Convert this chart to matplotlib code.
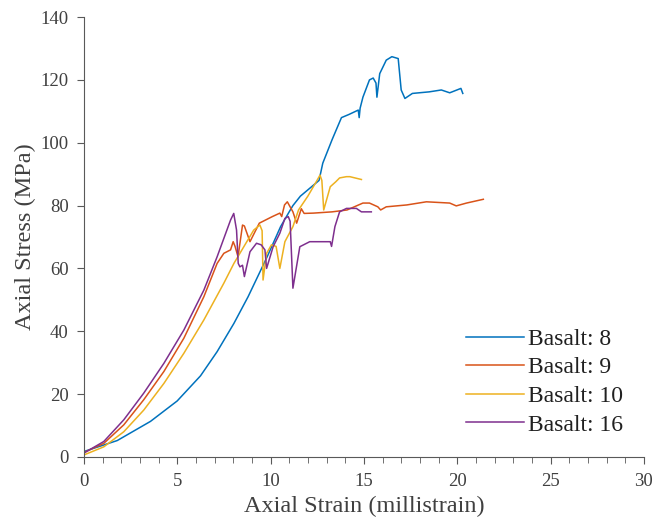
import matplotlib.pyplot as plt

# Basalt 8
strain_8 = [0, 1.79, 3.57, 5.0, 6.25, 7.14, 8.04, 8.8, 9.82, 10.54, 11.0, 11.2, 11.6, 12.0, 12.6,
            12.8, 13.3, 13.8, 14.2, 14.7, 14.75, 14.8, 14.95, 15.3, 15.5, 15.65, 15.7, 15.85, 16.2,
            16.5, 16.84, 17.0, 17.2, 17.6, 18.5, 19.15, 19.6, 20.2, 20.3]
stress_8 = [1.7, 5.2, 11.3, 17.8, 25.8, 33.5, 42.5, 51, 63.7, 73.3, 78, 80, 83, 85, 88,
            93.5, 101, 108, 109, 110.4, 108, 111, 114.5, 120, 120.6, 119, 114.5, 122, 126.3,
            127.4, 126.8, 116.8, 114.1, 115.7, 116.2, 116.8, 115.9, 117.3, 115.7]

# Basalt 9
strain_9 = [0, 1.07, 2.14, 3.21, 4.29, 5.36, 6.43, 7.14, 7.5, 7.86, 8.0, 8.1, 8.26, 8.5, 8.6, 8.9,
            9.4, 10.1, 10.5, 10.6, 10.75, 10.9, 11.2, 11.4, 11.65, 11.8, 12.3, 13.3, 14.1, 14.95,
            15.3, 15.75, 15.9, 16.2, 17.3, 18.35, 19.6, 19.95, 20.5, 21.4]
stress_9 = [1.4, 4.3, 10.2, 18.2, 27.2, 37.8, 51, 61.6, 64.8, 65.9, 68.5, 67, 63.7, 73.8, 73.5, 68.5,
            74.4, 76.5, 77.6, 76.5, 80.2, 81.2, 78, 74.4, 79, 77.5, 77.6, 78, 78.6, 80.8,
            80.8, 79.6, 78.6, 79.6, 80.2, 81.2, 80.8, 79.9, 80.8, 82]

# Basalt 10
strain_10 = [0, 1.07, 2.14, 3.21, 4.29, 5.36, 6.43, 7.5, 8.04, 8.57, 9.1, 9.43, 9.55, 9.6, 9.79,
             10.05, 10.3, 10.5, 10.77, 11.2, 11.5, 12.0, 12.5, 12.65, 12.75, 12.85, 13.2, 13.5,
             13.7, 14.07, 14.25, 14.87]
stress_10 = [0.6, 3.2, 8, 14.9, 23.4, 33, 43.6, 55.3, 61.6, 66.9, 72.2, 73.8, 72, 56.3, 64.8,
             67.5, 67, 60, 68.5, 73.3, 78.6, 83, 88.1, 89.7, 88, 78.6, 86, 87.6,
             88.8, 89.2, 89.2, 88.3]

# Basalt 16
strain_16 = [0, 1.07, 2.14, 3.21, 4.29, 5.36, 6.43, 7.14, 7.86, 8.03, 8.18, 8.27, 8.36, 8.5, 8.6,
             8.9, 9.25, 9.5, 9.7, 9.79, 10.14, 10.5, 10.77, 10.95, 11.05, 11.2, 11.57, 12.1, 13.2,
             13.27, 13.45, 13.7, 14.07, 14.6, 14.87, 15.4]
stress_16 = [1.2, 4.9, 11.8, 20.3, 29.8, 40.4, 53.1, 63.7, 75.4, 77.5, 72.2, 61.6, 60.5, 61, 57.4,
             65.3, 68, 67.5, 65.9, 60, 66.9, 71.2, 75.9, 76.5, 75, 53.7, 66.9, 68.5, 68.5,
             67, 73.3, 78, 79.1, 79.1, 78, 78]

labels = ["Basalt: 8", "Basalt: 9", "Basalt: 10", "Basalt: 16"]
colors = ["#0072BD", "#D95319", "#EDB120", "#7E2F8E"]

plt.rcParams['font.family'] = ['Liberation Serif', 'DejaVu Serif']

fig = plt.figure(figsize=(6.55, 5.18), dpi=100)
ax = fig.add_axes([0.128, 0.118, 0.855, 0.849])

series = [(strain_8, stress_8), (strain_9, stress_9), (strain_10, stress_10), (strain_16, stress_16)]
for (x, y), lab, c in zip(series, labels, colors):
    ax.plot(x, y, color=c, lw=1.1, label=lab)

ax.set_xlim(0, 30)
ax.set_ylim(0, 140)
ax.set_xticks(range(0, 31, 5))
ax.set_xticks(range(0, 31, 1), minor=True)
ax.set_yticks(range(0, 141, 20))
ax.tick_params(axis='both', which='major', direction='out', length=5, color='#595959',
               labelsize=13.5, labelcolor='#404040')
ax.tick_params(axis='y', which='major', pad=6)
ax.tick_params(axis='x', which='major', pad=6.5)
ax.tick_params(axis='x', which='minor', direction='out', length=4, color='#595959')
for s in ['top', 'right']:
    ax.spines[s].set_visible(False)
for s in ['left', 'bottom']:
    ax.spines[s].set_color('#595959')

ax.set_xlabel("Axial Strain (millistrain)", fontsize=17.5, color='#404040', labelpad=4)
ax.set_ylabel("Axial Stress (MPa)", fontsize=17.5, color='#404040', labelpad=3)

ax.legend(loc='lower right', bbox_to_anchor=(1.0, 0.0), frameon=False, fontsize=17,
          handlelength=2.45, labelspacing=0.3, handletextpad=0.15, labelcolor='#202020')

fig.savefig("out.png", dpi=100)
